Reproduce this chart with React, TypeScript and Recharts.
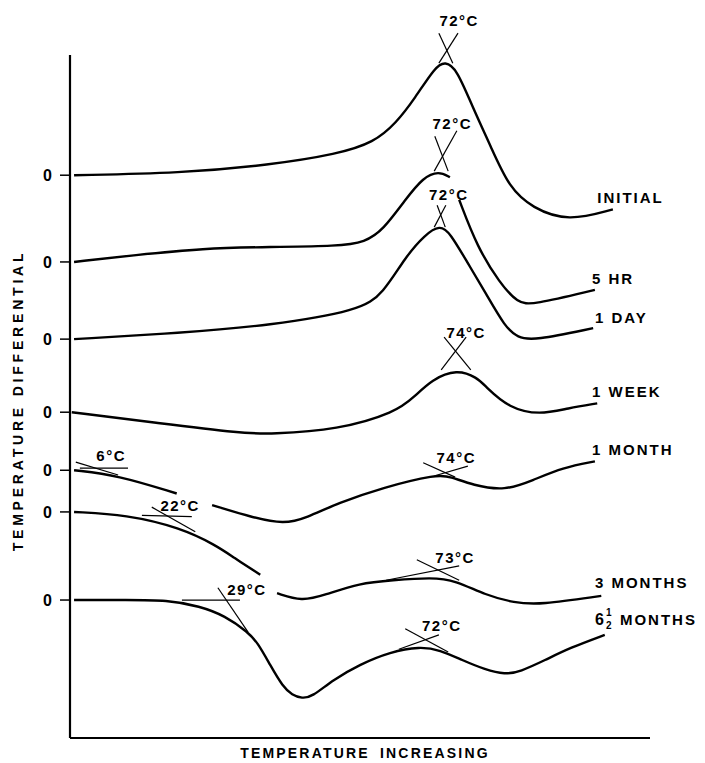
import { LineChart, Line, XAxis, YAxis, ReferenceLine, ReferenceDot } from 'recharts'

const FONT = '"Liberation Sans", Arial, sans-serif'

// x: temperature, 0 at the start of the run and 100 at the end
// values: differential deflection of each curve from its own zero line
const curveNames = ['INITIAL', '5 HR', '1 DAY', '1 WEEK', '1 MONTH', '3 MONTHS', '6½ MONTHS']
const zeroLevels = [82.4, 69.7, 58.4, 47.7, 39.2, 33.1, 20.2]

type Pt = [number, number | null]

const initial: Pt[] = [
  [0.7, 0], [19.0, 0.3], [34.5, 1.5], [46.2, 3.1], [52.4, 4.8], [56.2, 7.6],
  [59.5, 11.3], [62.9, 15.8], [64.7, 16.7], [66.7, 15.5], [69.3, 10.2], [72.6, 4.1],
  [75.7, -1.8], [79.7, -4.8], [85.9, -6.8], [93.6, -5.0],
]
const fiveHr: Pt[] = [
  [0.7, 0], [11.2, 1.0], [22.9, 2.0], [34.5, 2.2], [46.2, 2.3], [50.9, 2.9],
  [54.0, 4.7], [57.8, 9.1], [60.9, 12.4], [63.6, 13.3], [65.5, 12.4], [66.3, null],
  [67.1, 9.1], [70.2, 2.2], [74.1, -3.1], [77.2, -6.0], [79.7, -6.3], [90.5, -4.1],
]
const oneDay: Pt[] = [
  [0.7, 0], [19.0, 0.9], [34.5, 2.0], [50.0, 4.2], [54.0, 6.7], [57.8, 12.0],
  [61.2, 15.3], [63.8, 16.7], [65.5, 15.6], [68.6, 11.1], [71.7, 6.7], [75.0, 1.8],
  [77.2, 0.2], [80.0, -0.2], [90.2, 1.6],
]
const oneWeek: Pt[] = [
  [0.3, 0], [15.2, -1.6], [29.8, -3.1], [34.5, -3.2], [46.2, -2.6], [56.2, 0],
  [59.3, 2.2], [62.4, 4.8], [66.7, 6.3], [70.2, 5.1], [71.7, 3.7], [75.7, 0.6],
  [81.0, -0.4], [85.9, 0.6], [90.9, 1.3],
]
const oneMonth: Pt[] = [
  [0.7, 0], [8.1, -0.7], [18.4, -3.4], [21.0, null], [24.5, -5.1], [31.4, -6.9],
  [36.9, -7.9], [40.7, -7.0], [46.2, -4.8], [54.0, -2.5], [63.3, -0.6], [65.5, -0.9],
  [69.5, -2.2], [75.0, -3.0], [79.7, -1.5], [85.0, 0.4], [90.5, 1.3],
]
const threeMonths: Pt[] = [
  [0.7, 0], [9.7, -0.4], [19.0, -2.3], [25.2, -4.9], [28.1, -6.6], [32.8, -9.2],
  [34.3, null], [35.7, -11.9], [40.0, -13.1], [43.8, -12.2], [50.0, -10.4],
  [55.5, -10.0], [62.4, -9.6], [66.4, -10.0], [71.7, -12.2], [76.6, -13.3],
  [81.0, -13.6], [91.6, -12.3],
]
const sixHalfMonths: Pt[] = [
  [0.7, 0], [10.0, 0], [16.7, 0], [22.4, -0.9], [26.7, -2.3], [30.7, -4.7], [32.4, -6.3],
  [34.5, -9.5], [36.7, -12.7], [38.3, -13.9], [40.0, -14.4], [41.7, -14.2],
  [45.3, -11.7], [50.0, -9.4], [55.2, -7.6], [60.3, -6.8], [63.8, -7.3],
  [67.6, -8.8], [71.6, -10.2], [75.0, -10.9], [77.6, -10.5], [81.9, -8.8],
  [86.2, -7.0], [92.2, -5.1],
]

const curves = [initial, fiveHr, oneDay, oneWeek, oneMonth, threeMonths, sixHalfMonths]

// where each curve name sits (left edge, centre)
const nameX = [90.9, 90.0, 90.5, 90.0, 90.0, 90.5, 90.5]
const nameY = [79.1, 67.3, 61.6, 50.7, 42.2, 22.7, 17.3]

// peak / onset temperatures
const peakText = ['72°C', '72°C', '72°C', '74°C', '6°C', '74°C', '22°C', '73°C', '29°C', '72°C']
const peakX = [67.1, 65.9, 65.3, 68.3, 7.1, 66.6, 19.0, 66.4, 30.5, 64.1]
const peakY = [105.0, 90.0, 79.6, 59.3, 41.3, 41.1, 34.1, 26.5, 21.8, 16.5]

// tangent construction lines [x1, y1, x2, y2]
const tangents = [
  [63.6, 103.2, 66.0, 98.8], [66.9, 103.2, 63.6, 98.8],
  [62.9, 88.1, 65.2, 83.0], [66.7, 88.9, 62.8, 83.0],
  [63.3, 78.0, 64.7, 74.8], [64.8, 78.0, 62.8, 74.8],
  [64.5, 58.7, 69.1, 53.9], [68.3, 58.7, 64.0, 53.9],
  [1.7, 39.5, 10.0, 39.5], [1.0, 40.4, 8.3, 38.5],
  [60.9, 40.3, 66.4, 38.2], [68.6, 39.8, 62.9, 38.4],
  [12.4, 32.6, 21.0, 32.4], [14.1, 33.8, 21.6, 30.2],
  [54.5, 23.1, 67.1, 25.2], [59.8, 26.1, 67.1, 23.1],
  [19.3, 20.2, 29.3, 20.2], [25.5, 22.0, 30.7, 15.5],
  [56.7, 13.0, 63.6, 15.1], [57.8, 16.0, 65.2, 12.6],
]

const series = curves.map((pts, i) =>
  pts.map(([x, d]) => ({ x, y: d === null ? null : zeroLevels[i] + d })),
)

function PeakLabel({ viewBox, text }: any) {
  const x = viewBox.x + viewBox.width / 2
  const y = viewBox.y + viewBox.height / 2
  return (
    <text x={x} y={y} textAnchor="middle" dominantBaseline="central" fontFamily={FONT}
      fontWeight="bold" fontSize={15} letterSpacing={1.5} fill="#000">
      {text}
    </text>
  )
}

function CurveName({ viewBox, text }: any) {
  const x = viewBox.x + viewBox.width / 2
  const y = viewBox.y + viewBox.height / 2
  if (text.startsWith('6½')) {
    return (
      <g fontFamily={FONT} fontWeight="bold" fill="#000">
        <text x={x} y={y} dominantBaseline="central" fontSize={16}>6</text>
        <text x={x + 11} y={y - 7} dominantBaseline="central" fontSize={10}>1</text>
        <text x={x + 11} y={y + 6} dominantBaseline="central" fontSize={10}>2</text>
        <text x={x + 25} y={y} dominantBaseline="central" fontSize={15} letterSpacing={2}>MONTHS</text>
      </g>
    )
  }
  return (
    <text x={x} y={y} dominantBaseline="central" fontFamily={FONT} fontWeight="bold"
      fontSize={15} letterSpacing={2} fill="#000">
      {text}
    </text>
  )
}

function XTitle({ viewBox }: any) {
  return (
    <text x={viewBox.x + viewBox.width / 2 + 5} y={viewBox.y + 20} textAnchor="middle"
      fontFamily={FONT} fontWeight="bold" fontSize={14} letterSpacing={2.2} wordSpacing={4} fill="#000">
      TEMPERATURE INCREASING
    </text>
  )
}

function YTitle({ viewBox }: any) {
  const cx = viewBox.x + 10
  const cy = viewBox.y + viewBox.height / 2 + 4
  return (
    <text x={cx} y={cy} transform={`rotate(-90 ${cx} ${cy})`} textAnchor="middle"
      dominantBaseline="central" fontFamily={FONT} fontWeight="bold" fontSize={14}
      letterSpacing={3.8} fill="#000">
      TEMPERATURE DIFFERENTIAL
    </text>
  )
}

export default function App() {
  return (
    <div style={{ width: 689, height: 755, background: '#fff' }}>
      <LineChart width={689} height={755} margin={{ top: 47, right: 47, left: 0, bottom: 0 }}>
        <XAxis dataKey="x" type="number" domain={[0, 100]} allowDataOverflow tick={false}
          tickLine={false} axisLine={{ stroke: '#000', strokeWidth: 2 }} height={25}
          label={<XTitle />} />
        <YAxis type="number" domain={[0, 100]} allowDataOverflow width={62} ticks={zeroLevels}
          tickFormatter={() => '0'} tickSize={10} tickMargin={8}
          tickLine={{ stroke: '#000', strokeWidth: 1.5 }}
          axisLine={{ stroke: '#000', strokeWidth: 2.2 }}
          tick={{ fill: '#000', fontSize: 16, fontFamily: FONT, fontWeight: 'bold' }}
          label={<YTitle />} />
        {tangents.map((t, i) => (
          <ReferenceLine key={`t${i}`} segment={[{ x: t[0], y: t[1] }, { x: t[2], y: t[3] }]}
            stroke="#000" strokeWidth={1.2} ifOverflow="visible" />
        ))}
        {series.map((data, i) => (
          <Line key={curveNames[i]} data={data} dataKey="y" type="basis" stroke="#000"
            strokeWidth={2.4} dot={false} activeDot={false} isAnimationActive={false}
            connectNulls={false} />
        ))}
        {peakText.map((t, i) => (
          <ReferenceDot key={`p${i}`} x={peakX[i]} y={peakY[i]} r={0} fill="none" stroke="none"
            ifOverflow="visible" label={<PeakLabel text={t} />} />
        ))}
        {curveNames.map((n, i) => (
          <ReferenceDot key={`n${i}`} x={nameX[i]} y={nameY[i]} r={0} fill="none" stroke="none"
            ifOverflow="visible" label={<CurveName text={n} />} />
        ))}
      </LineChart>
    </div>
  )
}
